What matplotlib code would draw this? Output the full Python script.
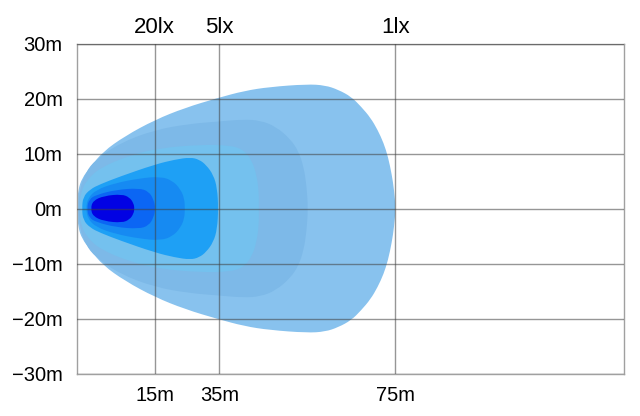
#Diagrama isolux del faro

import numpy as np
import matplotlib
matplotlib.use("Agg")
import matplotlib.pyplot as plt
from matplotlib.path import Path
from matplotlib.patches import PathPatch

#Datos (contornos: mitad superior, x en unidades del eje 0-100, y en metros)

y_ticks = [30, 20, 10, 0, -10, -20, -30]
bottom_labels = ["15m", "35m", "75m"]
top_labels = ["20lx", "5lx", "1lx"]

c1 = [(0.0, 0.0), (0.3, 3.4), (1.0, 5.5), (2.5, 7.5), (4.8, 10.3), (8.9, 13.2), (14.3, 16.1),
      (19.8, 18.3), (25.8, 20.1), (30.7, 21.4), (35.3, 22.1), (42.1, 22.6), (45.4, 22.4),
      (47.8, 21.6), (50.2, 20.3), (52.0, 18.5), (53.7, 16.5), (55.0, 14.3), (56.1, 11.9),
      (56.9, 9.4), (57.6, 6.1), (58.0, 3.4), (58.3, 0.0)]
c2 = [(0.3, 0.0), (0.6, 3.7), (1.7, 6.6), (3.4, 8.8), (7.9, 11.9), (14.3, 14.3), (20.7, 15.4),
      (25.8, 15.8), (30.4, 16.2), (33.6, 16.0), (36.4, 14.9), (39.1, 12.6), (40.6, 10.3),
      (41.5, 7.5), (42.0, 4.3), (42.3, 0.0)]
c3 = [(0.5, 0.0), (0.8, 3.0), (1.9, 5.2), (4.3, 7.4), (9.8, 9.7), (15.3, 11.0), (22.6, 11.6),
      (28.0, 11.5), (30.5, 10.7), (32.0, 8.8), (32.9, 6.1), (33.3, 3.0), (33.3, 0.0)]
c4 = [(1.0, 0.0), (1.2, 2.1), (2.5, 3.5), (4.3, 4.4), (7.9, 5.8), (14.3, 8.0), (18.0, 8.9),
      (20.8, 9.3), (22.4, 8.9), (23.7, 7.9), (25.0, 6.1), (25.7, 3.7), (25.9, 0.0)]
c5 = [(1.7, 0.0), (2.1, 1.9), (3.6, 3.4), (7.0, 4.6), (11.6, 5.5), (15.3, 5.8), (17.5, 5.1),
      (19.0, 3.5), (19.7, 1.8), (19.8, 0.0)]
c6 = [(1.9, 0.0), (2.3, 1.7), (3.7, 2.5), (7.2, 3.4), (11.4, 3.7), (13.2, 3.1), (14.1, 1.6),
      (14.4, 0.0)]
c7 = [(2.6, 0.0), (3.0, 1.4), (5.0, 2.3), (8.3, 2.6), (9.7, 2.0), (10.4, 1.0), (10.6, 0.0)]

contours = [c1, c2, c3, c4, c5, c6, c7]
colors = ["#88c2ee", "#7db9e8", "#74c1ee", "#1ea0f5", "#168af2", "#0b66f4", "#0202e3"]

#Posiciones de la rejilla vertical (unidades del eje)
grid_x = [14.3, 26.1, 58.2]


def blob(pts):
    up = np.array(pts, dtype=float)
    low = up[-2:0:-1] * np.array([1, -1])
    P = np.vstack([up, low])
    mids = (P + np.roll(P, -1, axis=0)) / 2
    verts = [mids[-1]]
    codes = [Path.MOVETO]
    for i in range(len(P)):
        verts += [P[i], mids[i]]
        codes += [Path.CURVE3, Path.CURVE3]
    verts.append(mids[-1])
    codes.append(Path.CLOSEPOLY)
    return Path(verts, codes)


plt.rcParams['font.family'] = ['Liberation Sans', 'DejaVu Sans']

fig = plt.figure(figsize=(6.4, 4.16), dpi=100)
ax = fig.add_axes([76.5 / 640, 42.5 / 416, (624 - 76.5) / 640, (373.5 - 43.5) / 416])

for pts, col in zip(contours, colors):
    ax.add_patch(PathPatch(blob(pts), facecolor=col, edgecolor='none', zorder=1))

ax.set_xlim(0, 100)
ax.set_ylim(-30, 30)
ax.set_axisbelow(False)

ax.set_yticks(y_ticks)
ax.set_yticklabels([("%dm" % v).replace("-", "\u2212") for v in y_ticks], fontsize=14.5)
ax.set_xticks(grid_x)
ax.set_xticklabels(bottom_labels, fontsize=14.5)
ax.tick_params(length=0, pad=10)
ax.tick_params(axis='x', pad=9)

ax.grid(True, color='#404040', alpha=0.55, linewidth=1)

sec = ax.secondary_xaxis('top')
sec.set_xticks(grid_x)
sec.set_xticklabels(top_labels, fontsize=16)
sec.tick_params(length=0, pad=4)
for s in sec.spines.values():
    s.set_visible(False)

for s in ax.spines.values():
    s.set_color('#a0a0a0')
    s.set_linewidth(1)

fig.savefig("out.png", dpi=100)
